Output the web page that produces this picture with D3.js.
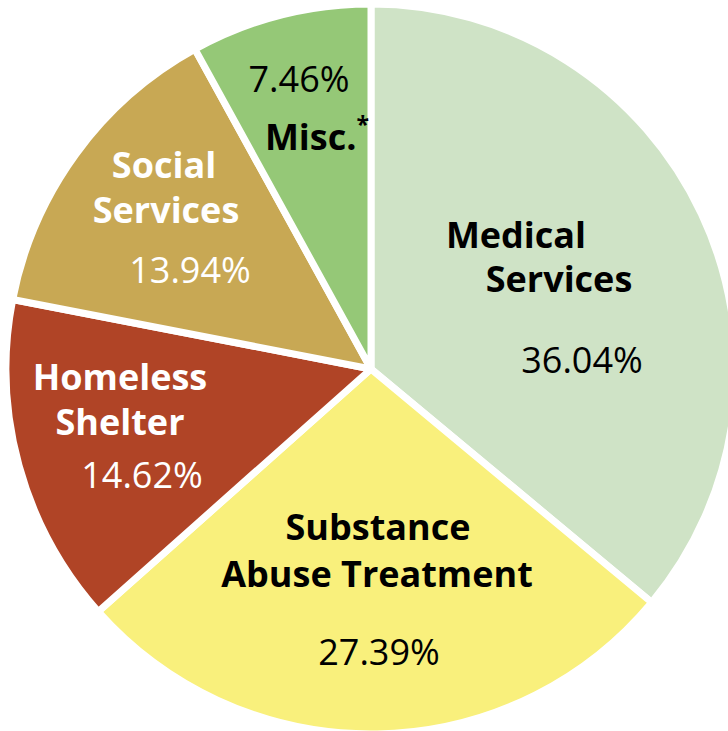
<!DOCTYPE html>
<html>
<head>
<meta charset="utf-8">
<script src="https://cdn.jsdelivr.net/npm/d3@7"></script>
<style>
  html, body { margin: 0; padding: 0; background: #fff; }
  svg { display: block; }
</style>
</head>
<body>
<div id="chart"></div>
<script>
// data
var categories = ["Medical Services", "Substance Abuse Treatment", "Homeless Shelter", "Social Services", "Misc."];
var shares = [36.04, 27.39, 14.62, 13.94, 7.46];
var shareLabels = ["36.04%", "27.39%", "14.62%", "13.94%", "7.46%"];
var colors = ["#cfe3c6", "#f9f07c", "#b04426", "#c8a854", "#95c877"];

// how each name is broken into lines
var nameLines = [["Medical", "Services"], ["Substance", "Abuse Treatment"], ["Homeless", "Shelter"], ["Social", "Services"], ["Misc."]];

// label layout, offsets from the pie centre (x = middle of line, y = baseline)
var labelLayout = [
  { name: [[145, -121], [188, -77]], pct: [211, 4], ink: "#000" },
  { name: [[7, 171], [6, 218]], pct: [8, 296], ink: "#000" },
  { name: [[-251, 21], [-251, 66]], pct: [-229, 119], ink: "#fff" },
  { name: [[-207, -191], [-205, -146]], pct: [-181, -86], ink: "#fff" },
  { name: [[-54, -219]], pct: [-72, -277], ink: "#000" }
];

var W = 728, H = 731;
var cx = 371, cy = 369, radius = 365;

var svg = d3.select("#chart")
  .append("svg")
  .attr("width", W)
  .attr("height", H);

var g = svg.append("g")
  .attr("transform", "translate(" + cx + "," + cy + ")");

// slices are laid out on a 0-100 % scale; the printed shares add up to 99.45,
// so the last slice (Misc.) closes the circle as in the original
var angle = d3.scaleLinear().domain([0, 100]).range([0, 2 * Math.PI]);
var cum = d3.cumsum(shares);
var arcs = shares.map(function(v, i) {
  return {
    value: v,
    startAngle: angle(i === 0 ? 0 : cum[i - 1]),
    endAngle: i === shares.length - 1 ? angle(100) : angle(cum[i])
  };
});
var arc = d3.arc().innerRadius(0).outerRadius(radius);

g.selectAll("path.slice")
  .data(arcs)
  .enter()
  .append("path")
  .attr("class", "slice")
  .attr("d", arc)
  .attr("fill", function(d, i) { return colors[i]; })
  .attr("stroke", "#fff")
  .attr("stroke-width", 7)
  .attr("stroke-linejoin", "round");

var font = "'Open Sans', 'Noto Sans', sans-serif";

categories.forEach(function(cat, i) {
  var lay = labelLayout[i];
  nameLines[i].forEach(function(line, j) {
    var t = g.append("text")
      .attr("x", lay.name[j][0])
      .attr("y", lay.name[j][1])
      .attr("text-anchor", "middle")
      .attr("font-family", font)
      .attr("font-weight", 700)
      .attr("font-size", 36)
      .attr("fill", lay.ink)
      .text(line);
    if (cat === "Misc.") {
      t.append("tspan")
        .attr("font-size", 23)
        .attr("dy", -17)
        .text("*");
    }
  });
  g.append("text")
    .attr("x", lay.pct[0])
    .attr("y", lay.pct[1])
    .attr("text-anchor", "middle")
    .attr("font-family", font)
    .attr("font-weight", 400)
    .attr("font-size", 36)
    .attr("fill", lay.ink)
    .text(shareLabels[i]);
});
</script>
</body>
</html>
